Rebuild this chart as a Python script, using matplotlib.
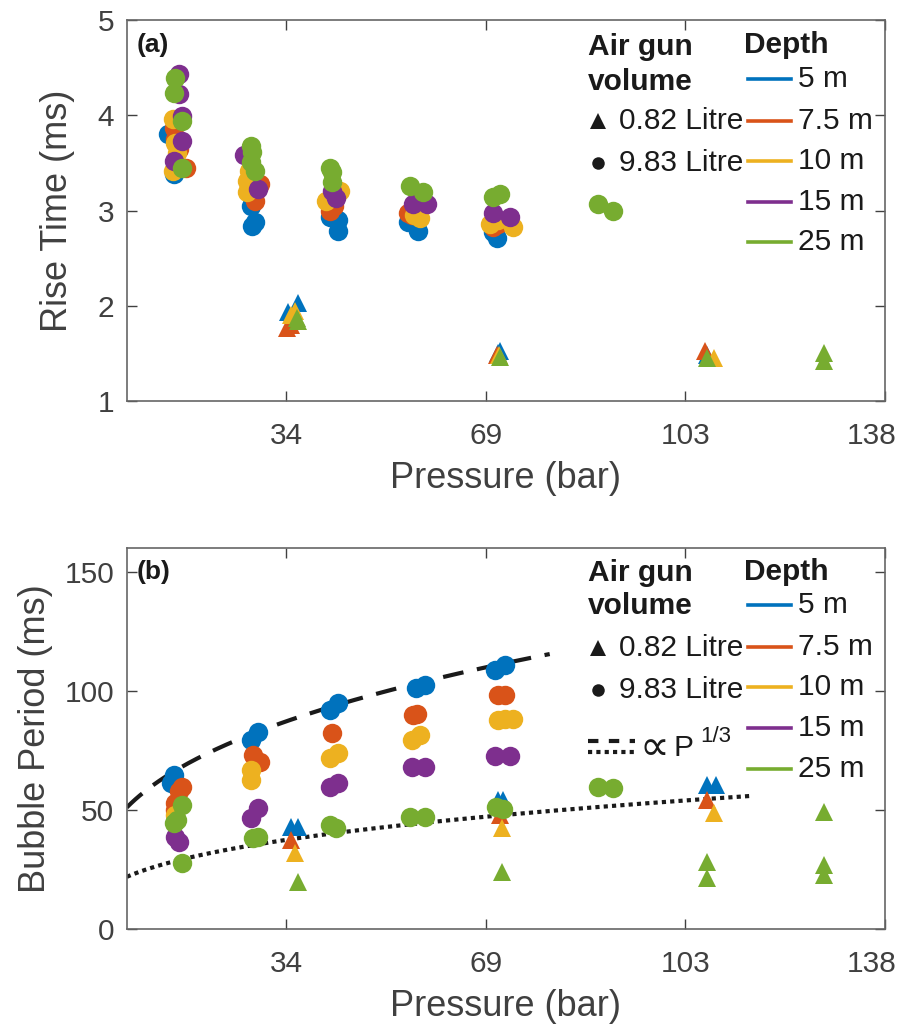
import numpy as np
import matplotlib.pyplot as plt
from matplotlib.transforms import ScaledTranslation

plt.rcParams['font.family'] = ['Liberation Sans', 'DejaVu Sans']

# Depth series (MATLAB default colour order)
depths = ['5 m', '7.5 m', '10 m', '15 m', '25 m']
colors = ['#0072BD', '#D95319', '#EDB120', '#7E2F8E', '#77AC30']

# x ticks: 500, 1000, 1500, 2000 psi expressed in bar
xticks = [34.47, 68.95, 103.42, 137.9]
xtick_labels = ['34', '69', '103', '138']

# ---- (a) rise time, 9.83 Litre gun (circles): pressure (bar), rise time (ms)
rise_big_p_5 = [14.1, 15.0, 15.3, 15.6, 28.3, 29.1, 28.6, 42.1, 43.4, 43.4, 55.5, 57.2, 70.2, 70.9]
rise_big_t_5 = [3.80, 3.38, 3.50, 3.45, 3.05, 2.88, 2.84, 2.93, 2.90, 2.79, 2.88, 2.79, 2.77, 2.71]
rise_big_p_75 = [15.0, 17.1, 15.9, 15.3, 30.0, 29.1, 28.3, 42.1, 42.8, 55.5, 56.2, 70.2, 71.0]
rise_big_t_75 = [3.87, 3.45, 3.65, 3.75, 3.28, 3.10, 3.18, 3.00, 3.05, 2.97, 2.95, 2.83, 2.86]
rise_big_p_10 = [14.9, 15.3, 15.6, 14.9, 27.7, 27.7, 28.0, 43.8, 41.4, 42.5, 57.6, 56.5, 69.6, 73.6, 71.0]
rise_big_t_10 = [3.96, 3.71, 3.60, 3.42, 3.31, 3.19, 3.42, 3.21, 3.10, 3.15, 2.92, 2.95, 2.86, 2.83, 2.90]
rise_big_p_15 = [15.9, 15.9, 16.5, 16.5, 15.0, 27.1, 29.6, 43.1, 42.4, 56.4, 58.8, 70.2, 73.1]
rise_big_t_15 = [4.43, 4.22, 3.99, 3.73, 3.52, 3.58, 3.23, 3.13, 3.20, 3.07, 3.07, 2.97, 2.93]
rise_big_p_25 = [15.3, 15.1, 16.5, 16.5, 28.3, 28.6, 28.3, 29.1, 42.1, 42.3, 42.4, 55.9, 58.1, 70.2, 71.4, 88.3, 90.9]
rise_big_t_25 = [4.39, 4.23, 3.94, 3.45, 3.68, 3.61, 3.51, 3.42, 3.45, 3.40, 3.30, 3.26, 3.19, 3.14, 3.17, 3.07, 2.99]

# ---- (a) rise time, 0.82 Litre gun (triangles)
rise_small_p_5 = [34.8, 36.5, 71.0, 71.4, 107.1]
rise_small_t_5 = [1.93, 2.03, 1.50, 1.52, 1.48]
rise_small_p_75 = [34.6, 35.2, 70.9, 106.9]
rise_small_t_75 = [1.77, 1.80, 1.48, 1.52]
rise_small_p_10 = [35.2, 35.9, 71.2, 108.4]
rise_small_t_10 = [1.90, 1.95, 1.48, 1.45]
rise_small_p_15 = []
rise_small_t_15 = []
rise_small_p_25 = [36.4, 36.5, 71.4, 107.1, 127.4, 127.4]
rise_small_t_25 = [1.87, 1.84, 1.46, 1.45, 1.50, 1.42]

# ---- (b) bubble period, 9.83 Litre gun (circles)
bub_big_p_5 = [15.0, 14.6, 29.6, 28.3, 43.4, 42.1, 58.4, 56.9, 72.2, 70.5]
bub_big_b_5 = [64.7, 61.3, 82.9, 79.4, 94.8, 92.0, 102.5, 101.2, 110.9, 108.8]
bub_big_p_75 = [16.5, 16.0, 15.3, 15.3, 28.8, 30.0, 42.4, 56.4, 57.0, 71.0, 72.2]
bub_big_b_75 = [59.8, 58.0, 53.0, 50.0, 73.1, 70.3, 82.2, 89.9, 90.5, 98.3, 98.3]
bub_big_p_10 = [15.3, 28.3, 28.3, 43.4, 42.1, 57.6, 56.2, 71.0, 72.2, 73.6]
bub_big_b_10 = [48.0, 66.8, 62.6, 73.8, 71.8, 81.5, 79.4, 87.8, 88.3, 88.0]
bub_big_p_15 = [15.3, 16.0, 29.6, 28.3, 43.4, 42.1, 56.2, 58.4, 70.5, 73.1]
bub_big_b_15 = [38.8, 36.7, 50.7, 46.5, 61.2, 59.8, 68.2, 68.2, 72.7, 72.7]
bub_big_p_25 = [16.5, 15.5, 15.1, 16.5, 28.8, 29.6, 42.1, 43.1, 55.9, 58.4, 70.7, 72.0, 88.3, 90.9]
bub_big_b_25 = [52.0, 45.8, 44.5, 27.9, 38.1, 38.6, 43.7, 42.4, 47.2, 47.2, 51.4, 50.5, 59.5, 59.3]

# ---- (b) bubble period, 0.82 Litre gun (triangles)
bub_small_p_5 = [35.2, 36.5, 71.0, 72.0, 107.1, 108.8]
bub_small_b_5 = [43.0, 43.0, 54.2, 54.2, 60.5, 60.5]
bub_small_p_75 = [35.2, 71.4, 107.1]
bub_small_b_75 = [37.4, 47.9, 54.2]
bub_small_p_10 = [35.9, 71.7, 108.4]
bub_small_b_10 = [31.8, 42.3, 48.6]
bub_small_p_15 = []
bub_small_b_15 = []
bub_small_p_25 = [36.5, 71.7, 107.1, 107.1, 127.4, 127.4, 127.4]
bub_small_b_25 = [19.9, 24.0, 28.3, 21.3, 49.3, 26.9, 22.7]

# P^(1/3) guide curves: coefficient and pressure range (bar)
upper_k, upper_range = 26.8, (6.9, 80.0)
lower_k, lower_range = 11.5, (6.9, 115.0)

rise_big = [(rise_big_p_5, rise_big_t_5), (rise_big_p_75, rise_big_t_75), (rise_big_p_10, rise_big_t_10),
            (rise_big_p_15, rise_big_t_15), (rise_big_p_25, rise_big_t_25)]
rise_small = [(rise_small_p_5, rise_small_t_5), (rise_small_p_75, rise_small_t_75), (rise_small_p_10, rise_small_t_10),
              (rise_small_p_15, rise_small_t_15), (rise_small_p_25, rise_small_t_25)]
bub_big = [(bub_big_p_5, bub_big_b_5), (bub_big_p_75, bub_big_b_75), (bub_big_p_10, bub_big_b_10),
           (bub_big_p_15, bub_big_b_15), (bub_big_p_25, bub_big_b_25)]
bub_small = [(bub_small_p_5, bub_small_b_5), (bub_small_p_75, bub_small_b_75), (bub_small_p_10, bub_small_b_10),
             (bub_small_p_15, bub_small_b_15), (bub_small_p_25, bub_small_b_25)]

axis_col = '#404040'
ink = '#1a1a1a'

fig = plt.figure(figsize=(9.05, 10.24), dpi=100)
ax_a = fig.add_axes([0.140, 0.6084, 0.8376, 0.372])
ax_b = fig.add_axes([0.140, 0.0928, 0.8376, 0.372])


def draw_points(ax, small, big):
    for (ps, vs), (pb, vb), c in zip(small, big, colors):
        ax.plot(ps, vs, '^', color=c, ms=13.5, mew=0, ls='none', zorder=3)
        ax.plot(pb, vb, 'o', color=c, ms=14, mew=0, ls='none', zorder=3)


def style_axes(ax, ylim, yticks, ylabel, labelpad):
    ax.set_xlim(6.89, 137.9)
    ax.set_ylim(*ylim)
    ax.set_xticks(xticks)
    ax.set_xticklabels(xtick_labels)
    ax.set_yticks(yticks)
    ax.tick_params(direction='in', top=True, right=True, length=7, width=1,
                   labelsize=21.5, colors=axis_col)
    ax.tick_params(axis='x', pad=15)
    ax.tick_params(axis='y', pad=9)
    # keep the last label inside the figure, as in the original
    last = ax.get_xticklabels()[-1]
    last.set_transform(last.get_transform() + ScaledTranslation(-0.13, 0, fig.dpi_scale_trans))
    for s in ax.spines.values():
        s.set_color('#666666')
        s.set_linewidth(1.2)
    ax.set_xlabel('Pressure (bar)', fontsize=26, color=axis_col, labelpad=8)
    ax.set_ylabel(ylabel, fontsize=26, color=axis_col, labelpad=labelpad)


def draw_key(ax, ys_vol, ys_depth):
    tr = ax.transAxes
    ax.text(0.608, ys_vol[0], 'Air gun', transform=tr, fontsize=21.5, fontweight='bold',
            color=ink, va='center')
    ax.text(0.608, ys_vol[1], 'volume', transform=tr, fontsize=21.5, fontweight='bold',
            color=ink, va='center')
    ax.plot([0.622], [ys_vol[2]], '^', color=ink, ms=11, mew=0, transform=tr, clip_on=False)
    ax.text(0.650, ys_vol[2], '0.82 Litre', transform=tr, fontsize=21.5, color=ink, va='center')
    ax.plot([0.622], [ys_vol[3]], 'o', color=ink, ms=9, mew=0, transform=tr, clip_on=False)
    ax.text(0.650, ys_vol[3], '9.83 Litre', transform=tr, fontsize=21.5, color=ink, va='center')
    ax.text(0.815, ys_depth[0], 'Depth', transform=tr, fontsize=21.5, fontweight='bold',
            color=ink, va='center')
    for y, c, lab in zip(ys_depth[1:], colors, depths):
        ax.plot([0.819, 0.877], [y, y], color=c, lw=2.6, transform=tr, clip_on=False)
        ax.text(0.886, y, lab, transform=tr, fontsize=21.5, color=ink, va='center')


# ---- panel (a)
draw_points(ax_a, rise_small, rise_big)
style_axes(ax_a, (1, 5), [1, 2, 3, 4, 5], 'Rise Time (ms)', 16)
ax_a.text(0.013, 0.934, '(a)', transform=ax_a.transAxes, fontsize=19, fontweight='bold',
          color=ink, va='center')
draw_key(ax_a, [0.929, 0.837, 0.735, 0.625], [0.934, 0.845, 0.735, 0.630, 0.522, 0.417])

# ---- panel (b)
p_up = np.linspace(*upper_range, 200)
p_lo = np.linspace(*lower_range, 200)
ax_b.plot(p_up, upper_k * p_up ** (1 / 3), color=ink, lw=3, dashes=(5, 3.3), zorder=2)
ax_b.plot(p_lo, lower_k * p_lo ** (1 / 3), color=ink, lw=3, dashes=(1, 1), zorder=2)
draw_points(ax_b, bub_small, bub_big)
style_axes(ax_b, (0, 160), [0, 50, 100, 150], 'Bubble Period (ms)', 8)
ax_b.text(0.013, 0.937, '(b)', transform=ax_b.transAxes, fontsize=19, fontweight='bold',
          color=ink, va='center')
draw_key(ax_b, [0.934, 0.848, 0.738, 0.627], [0.937, 0.850, 0.740, 0.635, 0.528, 0.420])
trb = ax_b.transAxes
ax_b.plot([0.608, 0.670], [0.493, 0.493], color=ink, lw=3, dashes=(2.5, 2.5), transform=trb)
ax_b.plot([0.608, 0.670], [0.465, 0.465], color=ink, lw=3, dashes=(1, 1), transform=trb)
ax_b.text(0.677, 0.476, '\u221d', transform=trb, fontsize=30, family='DejaVu Sans',
          color=ink, va='center')
ax_b.text(0.722, 0.474, 'P', transform=trb, fontsize=21.5, color=ink, va='center')
ax_b.text(0.757, 0.505, '1/3', transform=trb, fontsize=16, color=ink, va='center')

fig.savefig('out.png', dpi=100)
